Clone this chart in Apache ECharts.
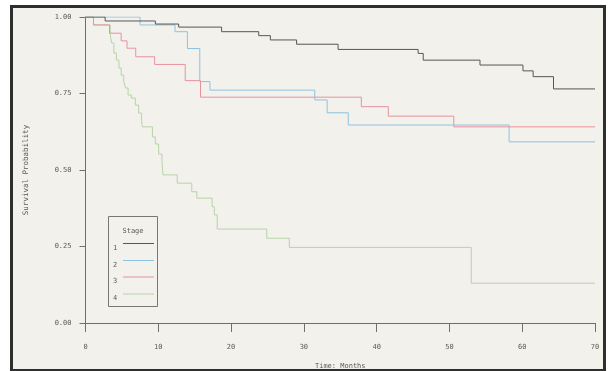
<!DOCTYPE html>
<html>
<head>
<meta charset="utf-8">
<script src="https://cdn.jsdelivr.net/npm/echarts@6/dist/echarts.min.js"></script>
<style>
  html, body { margin: 0; padding: 0; background: #ffffff; }
  #chart { width: 608px; height: 371px; }
</style>
</head>
<body>
<div id="chart"></div>
<script>
// Kaplan-Meier survival estimates by tumour stage (time in months)
const stageNames = ['1', '2', '3', '4'];
const stageColors = ['#575754', '#8cc3e2', '#e8929e', '#b7d4a8'];

const stage1Months   = [0, 2.7, 9.6, 12.8, 18.7, 23.8, 25.4, 29.0, 34.7, 45.7, 46.4, 54.2, 60.1, 61.5, 64.3, 70];
const stage1Survival = [1.000, 0.987, 0.977, 0.967, 0.952, 0.939, 0.925, 0.911, 0.894, 0.881, 0.859, 0.843, 0.824, 0.805, 0.765, 0.765];

const stage2Months   = [0, 7.5, 12.3, 14.0, 15.7, 17.1, 31.5, 33.2, 36.1, 58.2, 70];
const stage2Survival = [1.000, 0.974, 0.952, 0.897, 0.789, 0.761, 0.729, 0.687, 0.647, 0.592, 0.592];

const stage3Months   = [0, 1.1, 3.3, 4.9, 5.7, 6.9, 9.5, 13.7, 15.8, 37.9, 41.6, 50.6, 70];
const stage3Survival = [1.000, 0.974, 0.947, 0.922, 0.898, 0.870, 0.845, 0.792, 0.738, 0.707, 0.676, 0.641, 0.641];

const stage4Months   = [0, 1.1, 3.4, 3.6, 3.9, 4.25, 4.6, 4.9, 5.25, 5.5, 5.85, 6.3, 6.85, 7.3, 7.7, 7.8,
                        9.2, 9.6, 10.05, 10.5, 10.55, 10.65, 12.6, 14.6, 15.3, 17.4, 17.7, 18.1, 24.9, 28.0, 53.0, 70];
const stage4Survival = [1.000, 0.974, 0.941, 0.915, 0.882, 0.859, 0.833, 0.810, 0.789, 0.768, 0.745, 0.735, 0.712, 0.686, 0.663, 0.641,
                        0.608, 0.585, 0.552, 0.533, 0.510, 0.484, 0.457, 0.429, 0.408, 0.380, 0.353, 0.307, 0.277, 0.247, 0.130, 0.130];

const xTicks = [0, 10, 20, 30, 40, 50, 60, 70];
const yTicks = ['0.00', '0.25', '0.50', '0.75', '1.00'];

const stageMonths = [stage1Months, stage2Months, stage3Months, stage4Months];
const stageSurvival = [stage1Survival, stage2Survival, stage3Survival, stage4Survival];

const mono = 'DejaVu Sans Mono';
const inkColor = '#5a5a58';
const axisColor = '#6e6e6a';

const series = stageNames.map((name, i) => ({
  name: name,
  type: 'line',
  step: 'end',
  showSymbol: false,
  animation: false,
  lineStyle: { color: stageColors[i], width: 1 },
  itemStyle: { color: stageColors[i] },
  z: 5 - i,
  data: stageMonths[i].map((t, k) => [t, stageSurvival[i][k]])
}));

// legend box drawn at the lower left of the plot
const legendX = 108, legendY = 216, legendW = 49, legendH = 90;
const legendRowY = [248, 265, 281.5, 298.5];
const legendElements = [
  { type: 'rect', shape: { x: legendX + 0.5, y: legendY + 0.5, width: legendW, height: legendH },
    style: { fill: 'none', stroke: '#777773', lineWidth: 1 } },
  { type: 'text', x: legendX + 25, y: 231,
    style: { text: 'Stage', fill: inkColor, font: '7px "' + mono + '"', align: 'center', verticalAlign: 'middle' } }
];
stageNames.forEach((name, i) => {
  legendElements.push({ type: 'text', x: 115, y: legendRowY[i],
    style: { text: name, fill: inkColor, font: '7px "' + mono + '"', align: 'center', verticalAlign: 'middle' } });
  legendElements.push({ type: 'line', shape: { x1: 123, y1: legendRowY[i] - 4.5, x2: 154, y2: legendRowY[i] - 4.5 },
    style: { stroke: stageColors[i], lineWidth: 1 } });
});

const chart = echarts.init(document.getElementById('chart'), null, { renderer: 'canvas' });
chart.setOption({
  backgroundColor: '#ffffff',
  animation: false,
  graphic: [
    { type: 'rect', z: -10, silent: true,
      shape: { x: 11.5, y: 6.5, width: 593, height: 364 },
      style: { fill: '#f2f1eb', stroke: '#2e2e2c', lineWidth: 3 } },
    { type: 'group', z: 10, silent: true, children: legendElements }
  ],
  grid: { left: 85.5, right: 13, top: 17, bottom: 48, containLabel: false, outerBoundsMode: 'none' },
  xAxis: {
    type: 'value',
    min: 0, max: 70, interval: 10,
    name: 'Time: Months',
    nameLocation: 'middle',
    nameGap: 40,
    nameTextStyle: { fontFamily: mono, fontSize: 7, color: inkColor },
    axisLine: { show: true, onZero: false, lineStyle: { color: axisColor, width: 1 } },
    axisTick: { show: true, length: 9, lineStyle: { color: axisColor } },
    axisLabel: { margin: 21, fontFamily: mono, fontSize: 7, color: inkColor,
      formatter: v => xTicks.includes(v) ? String(v) : '' },
    splitLine: { show: false }
  },
  yAxis: {
    type: 'value',
    min: 0, max: 1, interval: 0.25,
    name: 'Survival Probability',
    nameLocation: 'middle',
    nameGap: 55,
    nameRotate: 90,
    nameTextStyle: { fontFamily: mono, fontSize: 7.5, color: inkColor },
    axisLine: { show: true, lineStyle: { color: axisColor, width: 1 } },
    axisTick: { show: true, length: 6, lineStyle: { color: axisColor } },
    axisLabel: { margin: 14, fontFamily: mono, fontSize: 7, color: inkColor,
      formatter: v => yTicks[Math.round(v / 0.25)] },
    splitLine: { show: false }
  },
  series: series
});
</script>
</body>
</html>
